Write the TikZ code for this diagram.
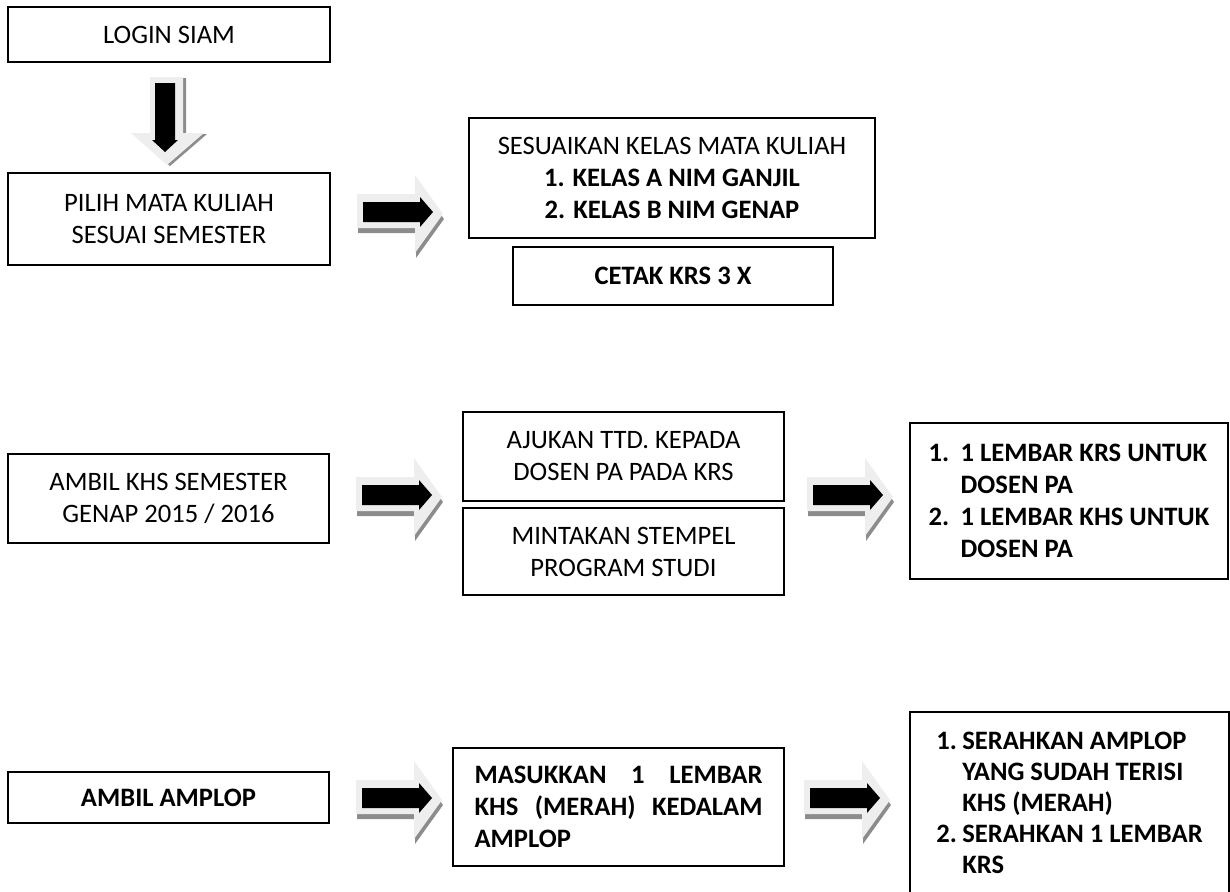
\documentclass[tikz,border=0pt]{standalone}
\usepackage{fontspec}
\setmainfont{Carlito}
\definecolor{arrowlight}{HTML}{EEEEEE}
\definecolor{arrowdark}{HTML}{8C8C8C}
\tikzset{
  box/.style={draw, line width=1.6pt, inner sep=0pt, outer sep=0pt,
    font=\fontsize{26.6}{32}\selectfont, align=center},
  boldbox/.style={box, font=\fontsize{26.6}{32}\selectfont\bfseries},
  rarrow/.pic={
    \fill[arrowdark] (1,-15) -- (59,-15) -- (59,-34) -- (87,5) -- (59,44) -- (59,19) -- (1,19) -- cycle;
    \fill[arrowlight] (0,-20) -- (58,-20) -- (58,-39) -- (86,0) -- (58,39) -- (58,14) -- (0,14) -- cycle;
    \fill[black] (6,-12) -- (63,-12) -- (63,-17) -- (76,-2) -- (63,13) -- (63,8) -- (6,8) -- cycle;
  },
  darrow/.pic={
    \fill[arrowdark] (-14,1) -- (19,1) -- (19,57) -- (40,57) -- (3,89) -- (-33,57) -- (-14,57) -- cycle;
    \fill[arrowlight] (-17,0) -- (16,0) -- (16,56) -- (37,56) -- (0,88) -- (-36,56) -- (-17,56) -- cycle;
    \fill[black] (-12,6) -- (8,6) -- (8,63) -- (11,63) -- (-2,75) -- (-15,63) -- (-12,63) -- cycle;
  }
}
\begin{document}
\begin{tikzpicture}[x=1pt,y=-1pt]
\useasboundingbox (0,0) rectangle (1230,891);
% row 1
\node[box, minimum width=322pt, minimum height=55pt] (login) at (169,34.5) {LOGIN SIAM};
\node[box, minimum width=322pt, minimum height=92pt] (pilih) at (169,219) {PILIH MATA KULIAH\\SESUAI SEMESTER};
\node[box, minimum width=406pt, minimum height=120pt] (sesuai) at (672,178)
  {SESUAIKAN KELAS MATA KULIAH\\\textbf{1. KELAS A NIM GANJIL}\\\textbf{2. KELAS B NIM GENAP}};
\node[boldbox, minimum width=320pt, minimum height=58pt] (cetak) at (673,276) {CETAK KRS 3 X};
\pic at (167,77) {darrow};
\pic at (357,214) {rarrow};
% row 2
\node[box, minimum width=321pt, minimum height=89pt] (khs) at (168.5,498.5) {AMBIL KHS SEMESTER\\GENAP 2015 / 2016};
\node[box, minimum width=321pt, minimum height=89pt] (ajukan) at (623.5,456.5) {AJUKAN TTD. KEPADA\\DOSEN PA PADA KRS};
\node[box, minimum width=321pt, minimum height=87pt] (mintakan) at (623.5,551.5) {MINTAKAN STEMPEL\\PROGRAM STUDI};
\node[boldbox, align=left, minimum width=318pt, minimum height=156pt] (lembar) at (1069,501)
  {\makebox[32pt][l]{1.}1 LEMBAR KRS UNTUK\\\hspace*{32pt}DOSEN PA\\\makebox[32pt][l]{2.}1 LEMBAR KHS UNTUK\\\hspace*{32pt}DOSEN PA};
\pic at (356,497) {rarrow};
\pic at (807,497) {rarrow};
% row 3
\node[boldbox, minimum width=321pt, minimum height=51pt] (amplop) at (168.5,797.5) {AMBIL AMPLOP};
\node[boldbox, align=left, minimum width=331pt, minimum height=118pt] (masukkan) at (618.5,807)
  {\makebox[288pt][l]{MASUKKAN\hfill 1\hfill LEMBAR}\\\makebox[288pt][l]{KHS\hfill (MERAH)\hfill KEDALAM}\\AMPLOP};
\node[boldbox, align=left, minimum width=319pt, minimum height=181pt, anchor=north,
  font=\fontsize{26.6}{31}\selectfont\bfseries] (serahkan) at (1069.5,712)
  {\makebox[26pt][l]{1.}SERAHKAN AMPLOP\\\hspace*{26pt}YANG SUDAH TERISI\\\hspace*{26pt}KHS (MERAH)\\\makebox[26pt][l]{2.}SERAHKAN 1 LEMBAR\\\hspace*{26pt}KRS};
\pic at (356,800) {rarrow};
\pic at (804,800) {rarrow};
\end{tikzpicture}
\end{document}
